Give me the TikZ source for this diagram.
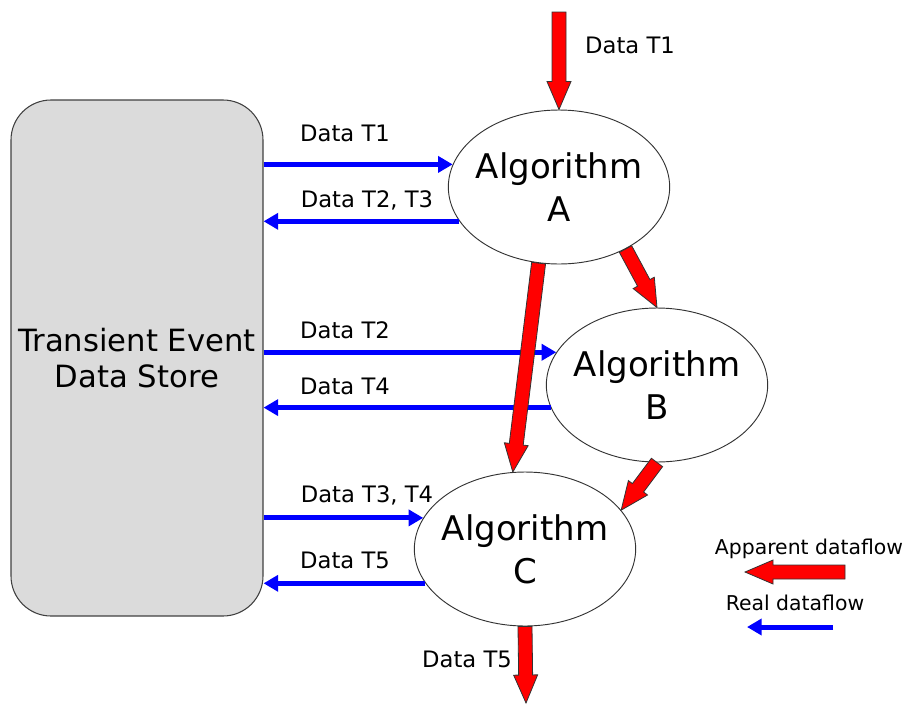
\documentclass[tikz,border=0pt]{standalone}
\usepackage{fontspec}
\setmainfont{DejaVu Sans}
\usepackage{tikz}
\usetikzlibrary{shapes.geometric, arrows.meta, calc}

\tikzset{
    store/.style={draw=black!75, fill=black!14, line width=0.8pt, rounded corners=30pt,
        minimum width=189pt, minimum height=387pt, align=center, font=\fontsize{23}{27}\selectfont},
    algo/.style={ellipse, draw=black!80, fill=white, line width=0.7pt,
        minimum width=166pt, minimum height=115.5pt},
    algotext/.style={align=center, font=\fontsize{25.5}{32}\selectfont},
    flowlabel/.style={font=\fontsize{17}{20}\selectfont},
    legendlabel/.style={font=\fontsize{15.3}{18}\selectfont},
    realflow/.style={draw=blue, line width=3.75pt, -{Triangle[length=11pt, width=12pt]}},
    fatflow/.style={draw=black!80, fill=red, line width=0.6pt, line join=miter},
}

% fat red arrow from #1 to #2
\newcommand{\fatarrow}[2]{%
    \coordinate (fa-base) at ($(#2)!21pt!(#1)$);
    \draw[fatflow] ($(#1)!5.25pt!90:(#2)$) -- ($(fa-base)!5.25pt!90:(#2)$)
        -- ($(fa-base)!9pt!90:(#2)$) -- (#2) -- ($(fa-base)!9pt!-90:(#2)$)
        -- ($(fa-base)!5.25pt!-90:(#2)$) -- ($(#1)!5.25pt!-90:(#2)$) -- cycle;
}

\begin{document}
\begin{tikzpicture}[x=0.75pt, y=-0.75pt]
    \useasboundingbox (0,0) rectangle (907,704);

    % Data store and algorithms
    \node[store] (store) at (137,358) {Transient Event\\Data Store};
    \node[algo] (A) at (559,187) {};
    \node[algo] (B) at (657,385) {};
    \node[algo] (C) at (525,549) {};
    \node[algotext] (Atext) at (A) {Algorithm\\A};
    \node[algotext] (Btext) at (B) {Algorithm\\B};
    \node[algotext] (Ctext) at (C) {Algorithm\\C};

    % Real dataflow through the store
    \draw[realflow] (store.east |- A.168) -- (A.168);
    \draw[realflow] (A.199) -- (store.east |- A.199);
    \draw[realflow] (store.east |- B.162) -- (B.162);
    \draw[realflow] (B.192) -- (store.east |- B.192);
    \draw[realflow] (store.east |- C.163) -- (C.163);
    \draw[realflow] (C.199) -- (store.east |- C.199);

    \node[flowlabel] (lT1) at (345,133) {Data T1};
    \node[flowlabel] (lT23) at (367,200) {Data T2, T3};
    \node[flowlabel] (lT2) at (345,330) {Data T2};
    \node[flowlabel] (lT4) at (345,386) {Data T4};
    \node[flowlabel] (lT34) at (367,495) {Data T3, T4};
    \node[flowlabel] (lT5) at (345,560) {Data T5};

    % Apparent dataflow
    \coordinate (srcT1) at (559,12);
    \coordinate (sinkT5) at (526,703);
    \fatarrow{srcT1}{A.north}
    \fatarrow{A.-43}{B.north}
    \fatarrow{A.-105.5}{C.99}
    \fatarrow{B.south}{C.22}
    \fatarrow{C.south}{sinkT5}

    \node[flowlabel] (inT1) at (630,45) {Data T1};
    \node[flowlabel] (outT5) at (467,659) {Data T5};

    % Legend
    \coordinate (appS) at (845,572);
    \coordinate (appE) at (745,572);
    \coordinate (realS) at (833,627);
    \coordinate (realE) at (747,627);
    \fatarrow{appS}{appE}
    \draw[realflow] (realS) -- (realE);
    \node[legendlabel] (appText) at (809,549) {Apparent dataflow};
    \node[legendlabel] (realText) at (795,603) {Real dataflow};
\end{tikzpicture}
\end{document}
